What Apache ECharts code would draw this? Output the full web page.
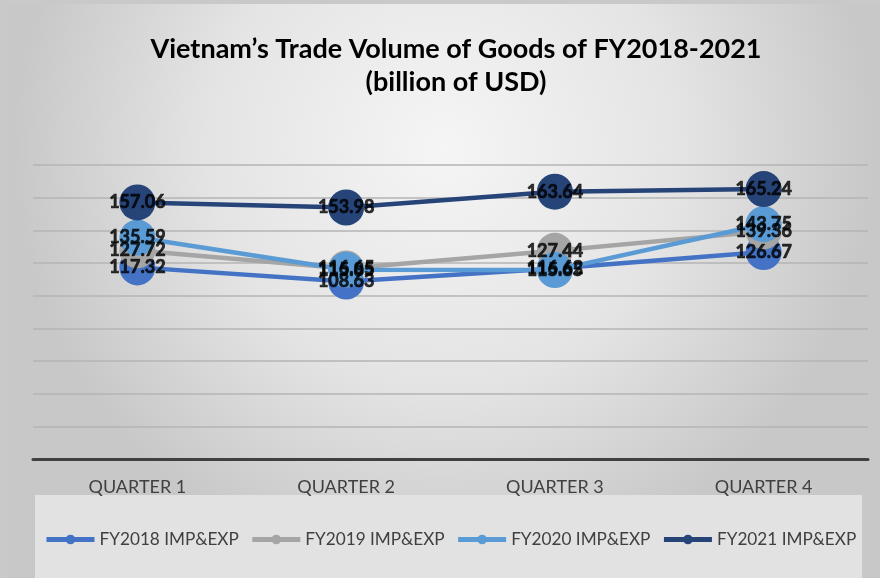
<!DOCTYPE html>
<html>
<head>
<meta charset="utf-8">
<script src="https://cdn.jsdelivr.net/npm/echarts@6/dist/echarts.min.js"></script>
<style>
  html, body { margin: 0; padding: 0; background: #c9c9c9; }
  #chart { width: 880px; height: 578px; }
</style>
</head>
<body>
<div id="chart"></div>
<script>
// Quarterly import & export totals, billion USD
const categories = ['QUARTER 1', 'QUARTER 2', 'QUARTER 3', 'QUARTER 4'];
const fy2018 = [117.32, 108.63, 116.62, 126.67];
const fy2019 = [127.72, 116.65, 127.44, 139.36];
const fy2020 = [135.59, 115.85, 115.65, 143.75];
const fy2021 = [157.06, 153.98, 163.64, 165.24];
const seriesNames = ['FY2018 IMP&EXP', 'FY2019 IMP&EXP', 'FY2020 IMP&EXP', 'FY2021 IMP&EXP'];
const seriesValues = [fy2018, fy2019, fy2020, fy2021];
const seriesColors = ['#4472C4', '#A5A5A5', '#5B9BD5', '#264478'];

const FONT = 'Lato, "Open Sans", sans-serif';

const chart = echarts.init(document.getElementById('chart'));

const lineSeries = seriesNames.map((name, i) => ({
  name: name,
  type: 'line',
  data: seriesValues[i],
  z: 2 + i,
  color: seriesColors[i],
  lineStyle: { width: 4.5, color: seriesColors[i] },
  itemStyle: { color: seriesColors[i] },
  symbol: 'circle',
  symbolSize: 36,
  showSymbol: true,
  label: { show: false }
}));

// value labels drawn above every marker
const labelSeries = seriesNames.map((name, i) => ({
  name: name + ' value',
  type: 'scatter',
  data: seriesValues[i],
  z: 20,
  symbolSize: 2,
  itemStyle: { color: 'rgba(0,0,0,0)' },
  silent: true,
  label: {
    show: true,
    position: 'inside',
    color: '#000',
    fontFamily: FONT,
    fontWeight: 700,
    fontSize: 18,
    textBorderColor: '#000',
    textBorderWidth: 0.7,
    formatter: p => p.value.toFixed(2)
  }
}));

chart.setOption({
  animation: false,
  backgroundColor: 'transparent',
  graphic: [
    {
      type: 'rect', z: -10,
      shape: { x: 8, y: 4, width: 872, height: 574 },
      style: {
        fill: new echarts.graphic.RadialGradient(0.5, 0.25, 0.75, [
          { offset: 0, color: '#f5f5f5' },
          { offset: 0.55, color: '#e4e4e4' },
          { offset: 1, color: '#c8c8c8' }
        ])
      }
    },
    {
      type: 'rect', z: -9,
      shape: { x: 35, y: 495, width: 827, height: 83 },
      style: { fill: '#e2e2e2' }
    }
  ],
  title: {
    text: 'Vietnam\u2019s Trade Volume of Goods of FY2018-2021\n(billion of USD)',
    left: 451,
    textAlign: 'center',
    top: 28,
    textStyle: {
      fontFamily: FONT,
      fontWeight: 'bold',
      fontSize: 27,
      lineHeight: 33,
      color: '#000'
    }
  },
  legend: {
    data: seriesNames,
    left: 39,
    top: 526,
    itemWidth: 48,
    itemHeight: 12,
    itemGap: 11,
    lineStyle: { width: 5 },
    textStyle: { fontFamily: FONT, fontSize: 17.2, color: '#404040' }
  },
  grid: { left: 33, right: 12, top: 165, bottom: 119, containLabel: false },
  xAxis: {
    type: 'category',
    data: categories,
    boundaryGap: true,
    axisLine: { lineStyle: { color: '#404040', width: 3 } },
    axisTick: { show: false },
    axisLabel: { fontFamily: FONT, fontSize: 18, color: '#404040', margin: 19 }
  },
  yAxis: {
    type: 'value',
    min: 0,
    max: 180,
    interval: 20,
    axisLine: { show: false },
    axisTick: { show: false },
    axisLabel: { show: false },
    splitLine: { lineStyle: { color: '#b4b4b4', width: 1.5 } }
  },
  series: lineSeries.concat(labelSeries)
});
</script>
</body>
</html>
